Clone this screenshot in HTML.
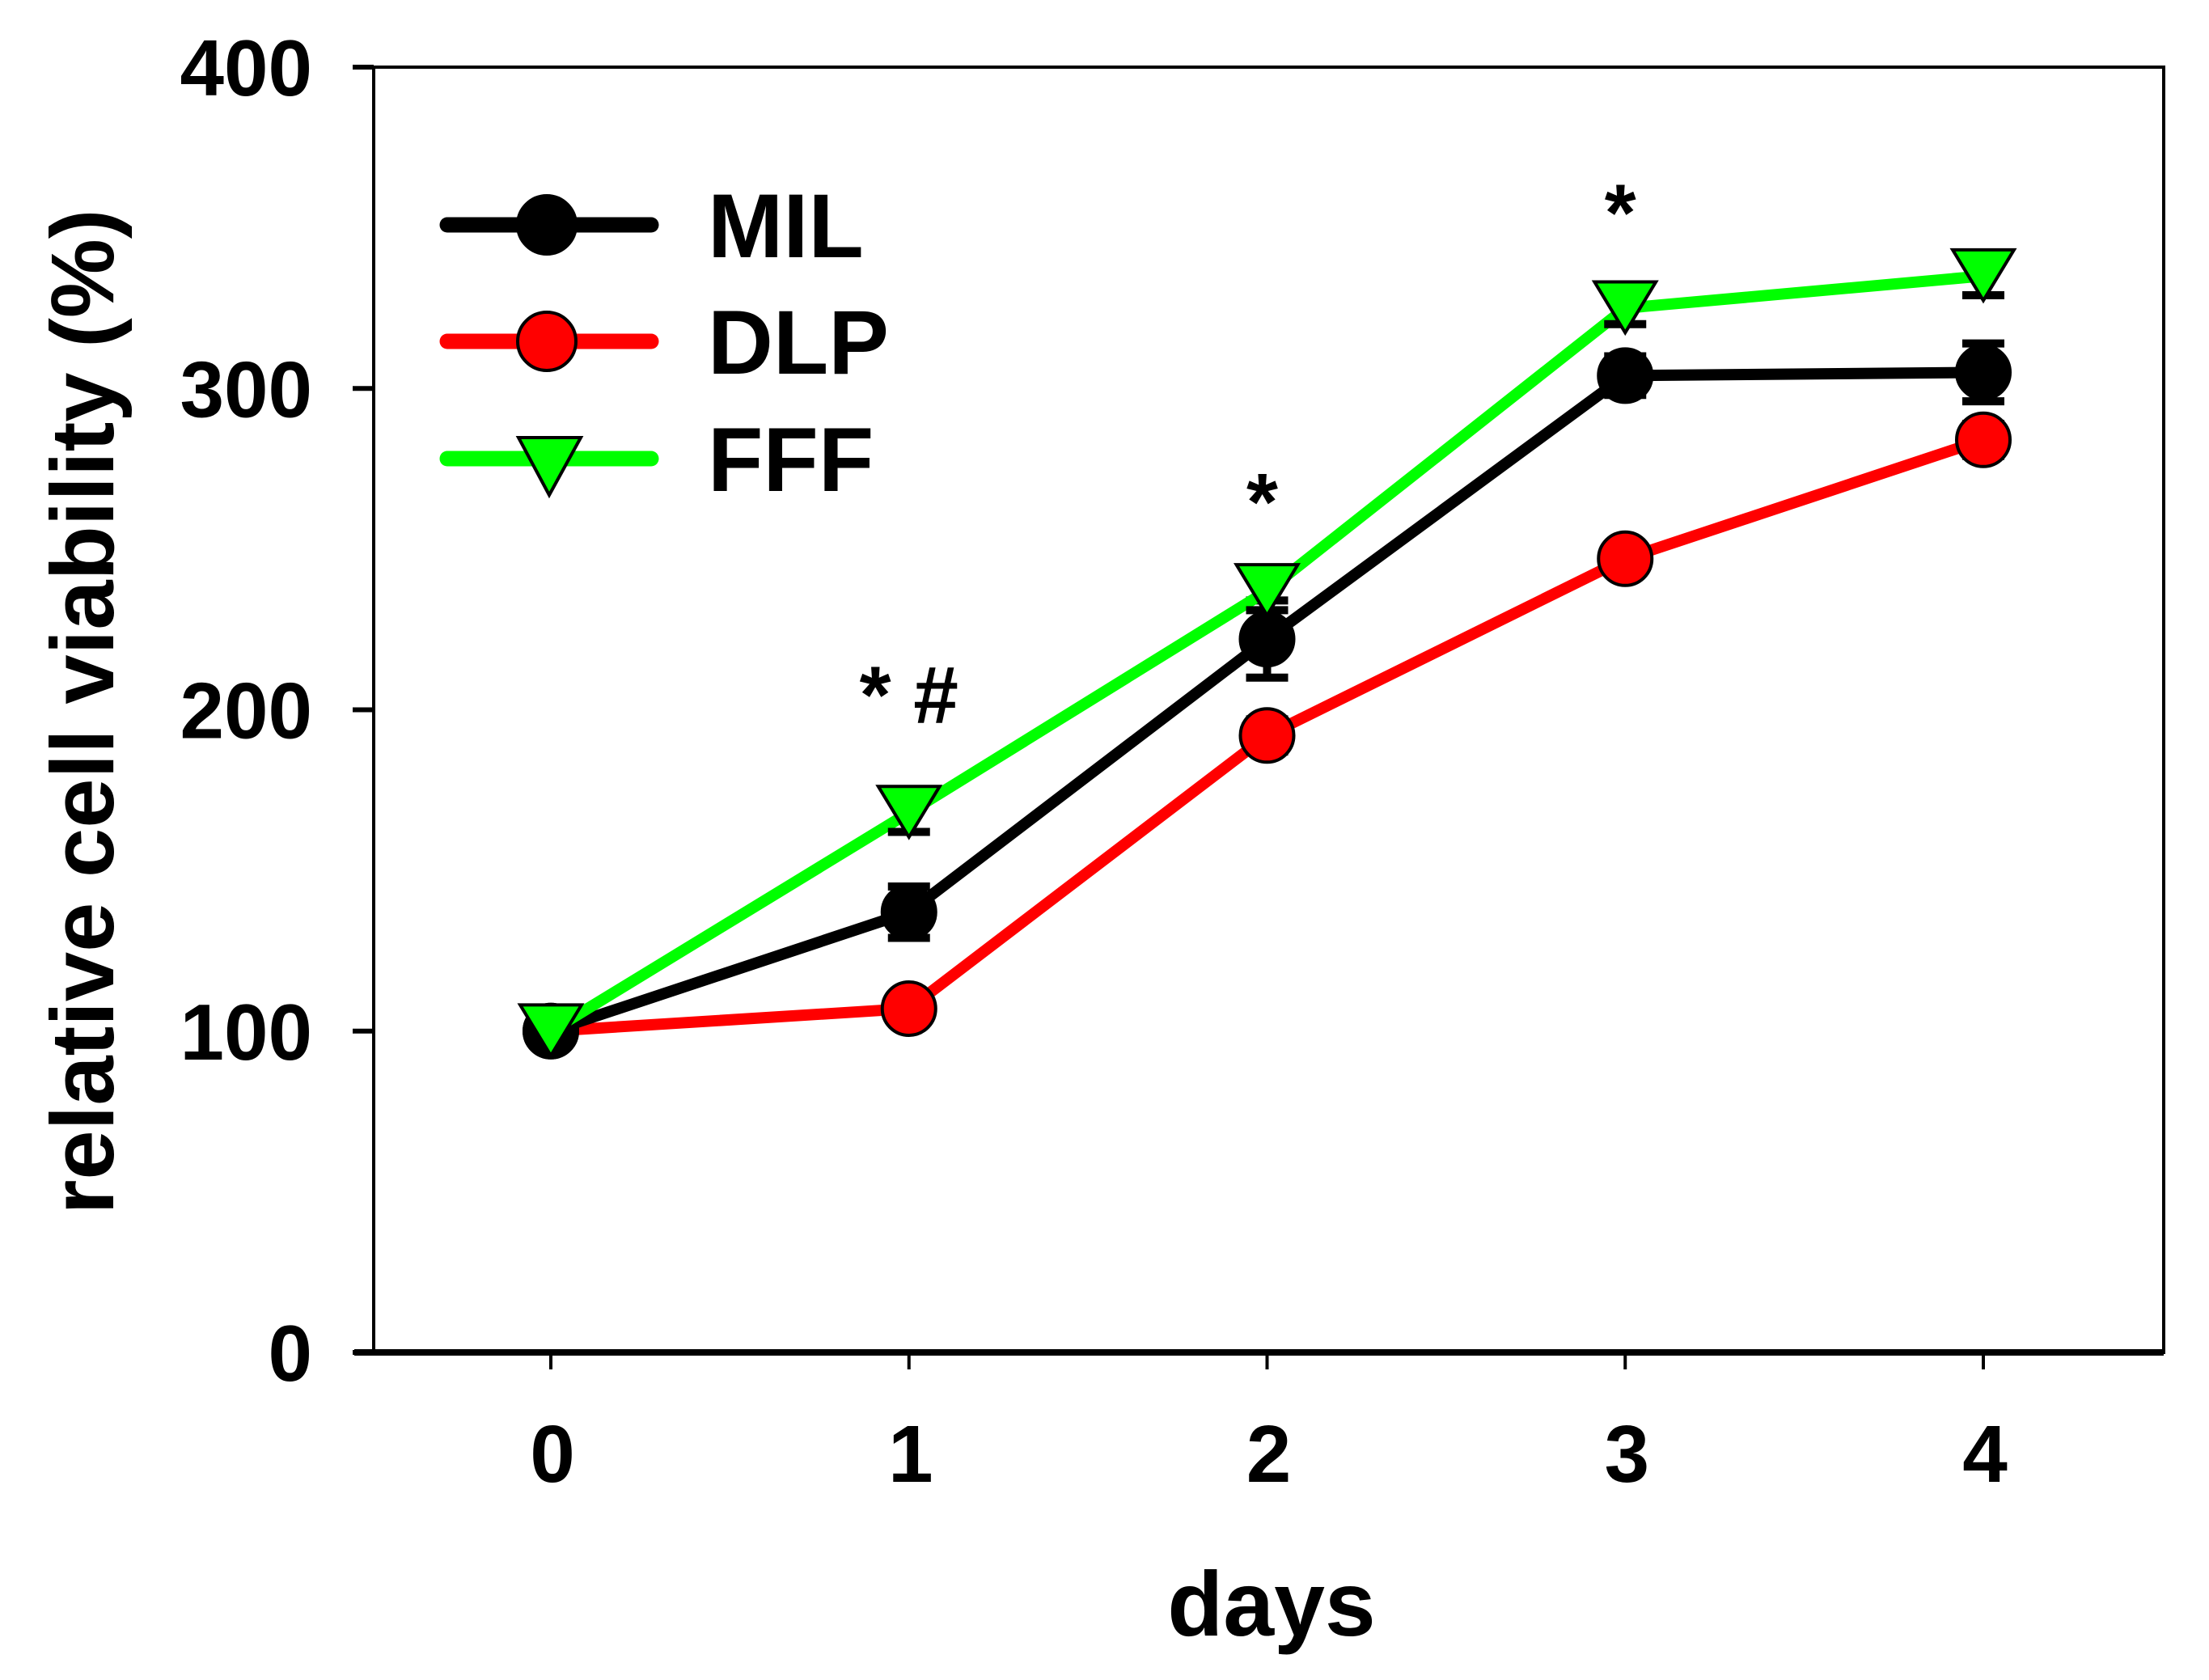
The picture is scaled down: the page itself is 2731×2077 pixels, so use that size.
<!DOCTYPE html>
<html><head><meta charset="utf-8"><style>
html,body{margin:0;padding:0;background:#fff;}
svg{display:block;font-family:"Liberation Sans",Arial,sans-serif;font-weight:bold;}
</style></head><body>
<svg id="chart" width="2731" height="2077" viewBox="0 0 2731 2077">
<g id="axes"></g>
<g id="series"></g>
<g id="legend"></g>
</svg>
<script>
const days = [0, 1, 2, 3, 4];
const milValues = [100, 137, 222, 304, 305];
const milErrors = [4, 8, 12, 6, 9];
const dlpValues = [100, 107, 192, 247, 284];
const dlpErrors = [3, 4, 5, 4, 5];
const fffValues = [100, 168, 237, 325, 335];
const fffErrors = [4, 6, 6, 5, 6];
const yTicks = [0, 100, 200, 300, 400];
const xTicks = [0, 1, 2, 3, 4];
const annotationDays = [1, 2, 3];
const annotationLabels = ["* #", "*", "*"];
const annotationValues = [196, 256, 346];

const NS = "http://www.w3.org/2000/svg";
const L = 462, R = 2675, T = 83, B = 1672;
function xS(d){ return 681 + d * (2452 - 681) / 4; }
function yS(v){ return B - v * (B - T) / 400; }
function mk(tag, attrs, parent){
  const e = document.createElementNS(NS, tag);
  for (const k in attrs) e.setAttribute(k, attrs[k]);
  parent.appendChild(e);
  return e;
}
const axes = document.getElementById('axes');
const series = document.getElementById('series');
const legend = document.getElementById('legend');

let e;
e = mk('rect', {x:L, y:T, width:R-L, height:B-T, fill:'none', stroke:'#000', 'stroke-width':4}, axes);


e = mk('line', {x1:438, y1:B, x2:R, y2:B, stroke:'#000', 'stroke-width':8}, axes);


e = mk('line', {x1:L, y1:T, x2:L, y2:B, stroke:'#000', 'stroke-width':4}, axes);


yTicks.forEach(v => {
  const y = yS(v);
  let t = mk('line', {x1:436, y1:y, x2:L, y2:y, stroke:'#000', 'stroke-width':6}, axes);
  
  
  let tx = mk('text', {x:386, y:y+35, 'font-size':98, 'text-anchor':'end'}, axes);
  tx.textContent = v;
  
  
});
xTicks.forEach(d => {
  const x = xS(d);
  let t = mk('line', {x1:x, y1:B, x2:x, y2:B+21, stroke:'#000', 'stroke-width':4}, axes);
  
  
  let tx = mk('text', {x:x+2, y:1832, 'font-size':100, 'text-anchor':'middle'}, axes);
  tx.textContent = d;
  
  
});
e = mk('text', {x:1572, y:2022, 'font-size':113, 'text-anchor':'middle'}, axes);
e.textContent = 'days';


e = mk('text', {x:0, y:0, 'font-size':110, 'text-anchor':'middle', transform:'translate(140,880) rotate(-90)', textLength:1243, lengthAdjust:'spacingAndGlyphs'}, axes);
e.textContent = 'relative cell viability (%)';



function marker(kind, x, y, fill, parent, r){
  if (kind === 'circle') return mk('circle', {cx:x, cy:y, r:r, fill:fill, stroke:'#000', 'stroke-width':4}, parent);
  const h = r * 1.9;
  return mk('polygon', {points:`${x-r*1.15},${y-r*0.8} ${x+r*1.15},${y-r*0.8} ${x},${y-r*0.8+h}`, fill:fill, stroke:'#000', 'stroke-width':4, 'stroke-linejoin':'miter'}, parent);
}
function drawSeries(name, vals, errs, color, kind){
  const g = mk('g', {}, series);
  
  
  const pts = days.map((d,i) => xS(d) + ',' + yS(vals[i])).join(' ');
  let p = mk('polyline', {points:pts, fill:'none', stroke:color, 'stroke-width':14, 'stroke-linejoin':'round'}, g);
  
  
  days.forEach((d,i) => {
    const x = xS(d), y1 = yS(vals[i]+errs[i]), y2 = yS(vals[i]-errs[i]);
    let eb = mk('path', {d:`M${x},${y1}V${y2}M${x-26},${y1}H${x+26}M${x-26},${y2}H${x+26}`, stroke:'#000', 'stroke-width':10, fill:'none'}, g);
    
    
  });
  days.forEach((d,i) => {
    const yy = kind === 'tri' ? yS(vals[i]) - 6 : yS(vals[i]);
    let m = marker(kind, xS(d), yy, color, g, 33);
    
    
  });
}
drawSeries('dlp', dlpValues, dlpErrors, '#ff0000', 'circle');
drawSeries('mil', milValues, milErrors, '#000', 'circle');
drawSeries('fff', fffValues, fffErrors, '#00ff00', 'tri');

annotationDays.forEach((d,i) => {
  let a = mk('text', {x:xS(d)+ (i===0 ? 0 : -6), y:yS(annotationValues[i]), 'font-size':100, 'text-anchor':'middle', 'xml:space':'preserve'}, series);
  a.textContent = annotationLabels[i];
  
  
});

const legendNames = ['MIL', 'DLP', 'FFF'];
const legendColors = ['#000', '#ff0000', '#00ff00'];
const legendKinds = ['circle', 'circle', 'tri'];
const legendY = [278, 422, 567];
legendNames.forEach((n,i) => {
  const g = mk('g', {}, legend);
  
  
  mk('line', {x1:553, y1:legendY[i], x2:805, y2:legendY[i], stroke:legendColors[i], 'stroke-width':19, 'stroke-linecap':'round'}, g);
  if (legendKinds[i] === 'circle') mk('circle', {cx:676, cy:legendY[i], r:36, fill:legendColors[i], stroke:'#000', 'stroke-width':4}, g);
  else mk('polygon', {points:`${641},${legendY[i]-26} ${718},${legendY[i]-26} ${679},${legendY[i]+45}`, fill:legendColors[i], stroke:'#000', 'stroke-width':4}, g);
  let t = mk('text', {x:875, y:legendY[i]+40, 'font-size':112}, g);
  t.textContent = n;
});
</script>
</body></html>
